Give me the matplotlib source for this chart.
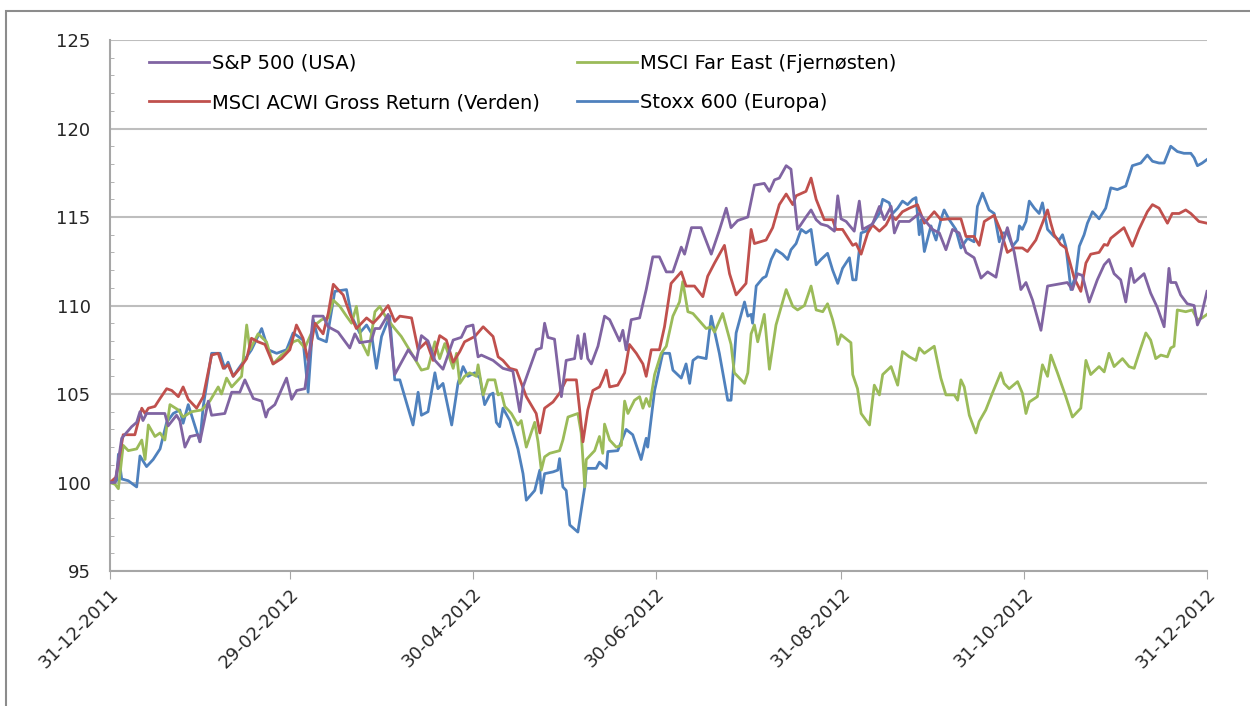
import numpy as np
import pandas as pd
import matplotlib
matplotlib.use("Agg")
import matplotlib.pyplot as plt
import matplotlib.dates as mdates
from matplotlib.patches import Rectangle
from matplotlib.ticker import MultipleLocator

# index values (31-12-2011 = 100), x = days since 31-12-2011
sp_days = [0, 1.7, 3.9, 7.2, 8.9, 10, 11, 12.2, 15, 18.3, 19.4, 22.2, 23.3, 25, 26.7, 29.4, 30,
           32.8, 33.9, 38.3, 40.6, 43.3, 45, 47.8, 50.6, 52, 52.8, 55, 58.9, 60.6, 62.3, 65, 66.1,
           67.8, 71.1, 72.8, 76.1, 80, 81.7, 83.3, 87.2, 88.4, 90, 92.8, 95, 99.5, 102.2, 103.9,
           106.1, 108.4, 111.1, 114.5, 117.2, 118.9, 121.1, 122.8, 123.9, 127.8, 131.1, 134.4,
           136.7, 137.8, 142.2, 143.9, 145, 146.1, 148.3, 150.6, 152.2, 155, 156.1, 157.2, 158.3,
           159.4, 160.6, 162.8, 165, 166.7, 168.9, 170, 171.1, 172.2, 173.9, 176.7, 178.9, 181.1,
           183.3, 185.6, 187.8, 190.6, 191.7, 194, 197.2, 200.6, 203.3, 205.6, 207.2, 209.4,
           212.8, 215, 218.3, 220, 221.7, 223.3, 225.6, 227.2, 229.4, 232.2, 233.9, 235.6, 237.2,
           239.4, 241.7, 242.8, 243.9, 245.6, 248.3, 250, 251.1, 254.4, 256.7, 258.3, 260.6,
           261.7, 263.3, 266.7, 270, 272.2, 274.4, 276.7, 278.9, 281.1, 283.3, 285.6, 288.3,
           290.6, 292.8, 295.6, 297.8, 299.4, 301.7, 303.9, 305.6, 307.8, 310.6, 312.8, 316.1,
           319.4, 321.1, 322.8, 324.4, 326.7, 329.4, 331.7, 333.3, 335, 337.2, 338.9, 340.6,
           341.7, 345, 347.2, 349.4, 351.7, 353.3, 353.9, 355.6, 357.2, 359.4, 361.7, 362.8,
           363.9, 366]
sp_vals = [100, 100, 102.5, 103.15, 103.4, 104.0, 103.5, 103.9, 103.9, 103.9, 103.2, 103.8, 103.5,
           102.0, 102.6, 102.7, 102.3, 104.6, 103.8, 103.9, 105.1, 105.1, 105.8, 104.75, 104.6,
           103.7, 104.1, 104.4, 105.9, 104.7, 105.2, 105.3, 106.6, 109.4, 109.4, 108.8, 108.5,
           107.6, 108.4, 107.9, 108.0, 108.7, 108.7, 109.5, 106.1, 107.5, 106.9, 108.3, 108.0,
           106.9, 106.4, 108.05, 108.2, 108.8, 108.9, 107.1, 107.2, 106.9, 106.45, 106.3, 104.0,
           105.4, 107.5, 107.6, 109.0, 108.2, 108.1, 104.85, 106.9, 107.0, 108.3, 107.0, 108.4,
           107.0, 106.7, 107.7, 109.4, 109.2, 108.4, 108.0, 108.6, 107.5, 109.2, 109.3, 110.9,
           112.75, 112.75, 111.9, 111.9, 113.3, 112.9, 114.4, 114.4, 112.9, 114.25, 115.5, 114.4,
           114.8, 115.0, 116.8, 116.9, 116.45, 117.1, 117.2, 117.9, 117.7, 114.3, 115.0, 115.4,
           114.85, 114.6, 114.5, 114.2, 116.2, 114.9, 114.75, 114.2, 115.9, 114.3, 114.6, 115.6,
           114.85, 115.6, 114.1, 114.75, 114.75, 115.2, 114.75, 114.3, 114.1, 113.15, 114.3,
           114.1, 113.0, 112.7, 111.55, 111.9, 111.6, 113.5, 114.4, 113.0, 110.9, 111.3, 110.3,
           108.6, 111.1, 111.2, 111.3, 110.9, 111.8, 111.7, 110.2, 111.45, 112.3, 112.6, 111.8,
           111.45, 110.2, 112.1, 111.3, 111.8, 110.7, 109.9, 108.8, 112.1, 111.3, 111.3, 110.6,
           110.1, 110.0, 108.9, 109.3, 110.8]

acwi_days = [0, 2, 4.4, 8.3, 10.6, 11.7, 12.8, 15, 16.7, 18.9, 20.6, 22.8, 24.4, 26.1, 28.9, 31.1,
             33.9, 36.1, 37.8, 39.4, 41.1, 43.3, 45.6, 47.2, 49.4, 51.7, 54.4, 57.2, 60, 62.2,
             64.4, 66.1, 68.4, 71.1, 72.8, 74.5, 76.1, 77.8, 80, 82.2, 85.6, 87.8, 90, 92.8, 95,
             96.7, 100.6, 102.8, 105.6, 107.8, 110, 112.2, 114.5, 116.7, 118.3, 121.7, 124.5,
             127.8, 129.5, 131.1, 133.4, 135.6, 138.9, 142.2, 143.4, 145, 147.8, 150, 152.2,
             155.6, 156.7, 157.8, 159.4, 161.1, 163.3, 164.4, 165.6, 166.7, 169.4, 171.7, 173.3,
             175.6, 177.8, 178.9, 180.6, 183.3, 185, 187.2, 190.6, 192.2, 195, 197.8, 199.4,
             201.7, 205, 206.7, 208.9, 212.2, 213.9, 215, 218.9, 221.1, 223.3, 225.6, 227.8,
             228.9, 232.2, 233.9, 235.6, 238.3, 241.1, 242.2, 244.4, 247.8, 248.9, 250.6, 252.8,
             254.4, 256.7, 258.9, 260.6, 262.2, 264.4, 266.7, 269.4, 271.7, 275, 277.2, 280,
             283.9, 285.6, 288.3, 290, 291.7, 295, 297.2, 299.4, 301.7, 304.4, 306.1, 308.9,
             311.1, 312.8, 313.9, 315, 317.2, 318.9, 320, 321.7, 323.9, 325.6, 327.2, 330, 331.7,
             332.8, 333.9, 336.1, 338.3, 341.1, 343.3, 346.1, 347.8, 350, 352.8, 354.4, 356.7,
             358.9, 360.6, 363.3, 366]
acwi_vals = [100, 100.3, 102.7, 102.7, 104.2, 103.9, 104.2, 104.3, 104.75, 105.3, 105.2, 104.85,
             105.4, 104.7, 104.2, 104.85, 107.2, 107.3, 106.45, 106.65, 106.0, 106.45, 107.0,
             108.15, 107.95, 107.8, 106.7, 107.0, 107.5, 108.9, 108.15, 106.9, 109.0, 108.4,
             109.55, 111.2, 110.9, 110.6, 109.55, 108.7, 109.3, 109.0, 109.4, 110.0, 109.1,
             109.4, 109.3, 107.5, 107.95, 106.9, 108.3, 108.05, 106.8, 107.4, 107.95, 108.25,
             108.8, 108.25, 107.1, 106.9, 106.45, 106.35, 104.85, 103.9, 102.8, 104.2, 104.55,
             105.05, 105.8, 105.8, 104.1, 102.3, 104.1, 105.2, 105.4, 105.8, 106.35, 105.4, 105.5,
             106.2, 107.8, 107.3, 106.7, 106.0, 107.5, 107.5, 108.8, 111.25, 111.9, 111.1, 111.1,
             110.5, 111.65, 112.4, 113.4, 111.8, 110.6, 111.25, 114.3, 113.5, 113.7, 114.4,
             115.7, 116.3, 115.7, 116.2, 116.45, 117.2, 116.0, 114.85, 114.85, 114.3, 114.3,
             113.4, 113.5, 112.9, 114.1, 114.55, 114.2, 114.55, 115.1, 114.85, 115.3, 115.5,
             115.7, 114.65, 115.3, 114.85, 114.9, 114.9, 113.9, 113.9, 113.4, 114.75, 115.1,
             114.2, 113.0, 113.25, 113.25, 113.05, 113.7, 114.65, 115.4, 114.65, 114.0, 113.45,
             113.25, 112.6, 111.55, 110.8, 112.4, 112.9, 113.0, 113.45, 113.4, 113.8, 114.1,
             114.4, 113.35, 114.3, 115.3, 115.7, 115.5, 114.65, 115.2, 115.2, 115.4, 115.2,
             114.75, 114.65]

fe_days = [0, 1.7, 2.8, 4.4, 6.1, 8.9, 10.6, 11.7, 12.8, 15, 16.7, 18.3, 20, 22.8, 24.4, 27.2,
           30.6, 33.3, 36.1, 37.2, 38.9, 40.6, 43.9, 45.6, 46.7, 49.4, 52.2, 54.4, 57.2, 58.9,
           61.1, 62.8, 65, 66.7, 68.4, 70.6, 72.8, 74.5, 76.7, 78.9, 80.6, 82.2, 83.9, 86.1,
           88.4, 90, 92.2, 95, 97.2, 100.6, 103.9, 106.1, 108.4, 110, 111.7, 112.8, 114.5,
           115.6, 116.7, 118.3, 120, 122.2, 122.8, 124.5, 126.1, 128.4, 129.5, 130.6, 131.7,
           133.9, 136.1, 137.2, 138.9, 141.7, 142.8, 143.9, 145, 146.7, 150, 151.1, 152.8,
           156.1, 157.2, 158.4, 158.9, 161.7, 163.3, 164.4, 165, 166.7, 168.9, 170.6, 171.7,
           172.8, 175, 176.7, 177.8, 178.9, 180, 181.7, 183.9, 185.6, 187.8, 190, 191.1, 192.8,
           194.5, 198.9, 200.6, 201.7, 204.4, 207.2, 208.3, 211.7, 212.8, 213.9, 215, 216.1,
           218.3, 220, 222.2, 225.6, 227.8, 229.4, 231.7, 233.9, 235.6, 237.8, 239.4, 241.1,
           242.2, 242.8, 243.9, 247.2, 247.8, 249.4, 250.6, 253.4, 255, 256.7, 257.8, 260.6,
           262.8, 264.4, 266.7, 268.9, 270, 271.7, 275, 277.2, 278.9, 281.7, 282.8, 283.9, 285,
           286.7, 288.9, 290, 292.2, 294.4, 297.2, 298.3, 300, 302.8, 304.4, 305.6, 306.7,
           309.4, 311.1, 312.8, 313.9, 316.1, 318.9, 321.1, 323.9, 325.6, 327.2, 330, 331.7,
           333.3, 335, 337.8, 340, 341.7, 343.9, 345.6, 347.2, 348.9, 350.6, 352.8, 353.9, 355,
           356.1, 358.9, 361.1, 362.8, 364.4, 366]
fe_vals = [100, 99.9, 99.65, 102.1, 101.8, 101.9, 102.4, 101.3, 103.25, 102.6, 102.8, 102.4,
           104.4, 104.1, 103.7, 104.0, 104.1, 104.6, 105.4, 105.0, 105.9, 105.4, 106.0, 108.9,
           107.5, 108.4, 107.95, 106.7, 107.2, 107.4, 107.95, 108.05, 107.6, 108.25, 108.9,
           109.2, 109.3, 110.3, 109.95, 109.4, 109.0, 109.95, 107.95, 107.2, 109.65, 109.95,
           109.3, 108.7, 108.25, 107.3, 106.35, 106.45, 107.95, 107.0, 107.85, 107.3, 106.45,
           107.3, 105.6, 106.0, 106.2, 106.0, 106.65, 104.95, 105.8, 105.8, 104.95, 105.05,
           104.3, 103.9, 103.25, 103.5, 102.0, 103.4, 102.3, 100.7, 101.45, 101.65, 101.8,
           102.4, 103.7, 103.9, 102.8, 99.75, 101.3, 101.8, 102.6, 101.65, 103.3, 102.4, 102.0,
           102.1, 104.6, 103.9, 104.65, 104.85, 104.2, 104.75, 104.3, 106.1, 107.3, 107.7,
           109.4, 110.2, 111.35, 109.65, 109.55, 108.7, 108.8, 108.5, 109.55, 107.8, 106.2,
           105.6, 106.2, 108.4, 108.9, 107.95, 109.5, 106.4, 108.9, 110.9, 109.95, 109.75,
           110.0, 111.1, 109.75, 109.65, 110.1, 109.2, 108.45, 107.8, 108.35, 107.9, 106.1,
           105.3, 103.9, 103.25, 105.5, 104.95, 106.1, 106.55, 105.5, 107.4, 107.1, 106.9,
           107.6, 107.3, 107.7, 105.9, 104.95, 104.95, 104.65, 105.8, 105.4, 103.8, 102.8,
           103.45, 104.1, 105.05, 106.2, 105.6, 105.3, 105.7, 105.05, 103.9, 104.55, 104.85,
           106.65, 106.0, 107.2, 106.2, 104.85, 103.7, 104.2, 106.9, 106.1, 106.55, 106.25,
           107.3, 106.55, 107.0, 106.55, 106.45, 107.6, 108.45, 108.05, 107.0, 107.2, 107.1,
           107.6, 107.7, 109.75, 109.65, 109.75, 109.2, 109.3, 109.5]

stoxx_days = [0, 2.2, 2.8, 3.9, 6.1, 8.9, 10, 12.2, 14.4, 16.7, 18.9, 21.1, 23.3, 24.4, 26.1, 30,
              31.1, 33.9, 36.7, 38.3, 39.4, 41.1, 44.4, 47.2, 50.6, 52.8, 55.6, 58.9, 61.1,
              62.8, 64.4, 66.1, 67.8, 69.4, 72.2, 75, 78.9, 80.6, 83.3, 85.6, 87.2, 88.9, 90.6,
              93.3, 95, 96.7, 101.1, 102.8, 103.9, 106.1, 108.4, 109.4, 111.1, 114, 116.1,
              117.8, 119.4, 121.7, 123.4, 125, 126.7, 127.8, 128.9, 130, 131.1, 133.4, 136.1,
              137.8, 138.9, 141.7, 143.4, 143.9, 145, 147.8, 149.4, 150, 151.1, 152.2, 153.4,
              156.1, 158.4, 158.9, 162.2, 163.3, 165.6, 166.1, 169.4, 172.2, 174.4, 177.2,
              178.9, 179.4, 181.7, 184.4, 186.7, 187.8, 190.6, 192.2, 193.4, 194.5, 196.1,
              198.9, 200.6, 203.3, 206.1, 207.2, 208.9, 211.7, 212.8, 213.9, 214.4, 215.6,
              217.8, 218.9, 220.6, 222.2, 224.4, 226.1, 227.2, 228.9, 230.6, 232.2, 233.9,
              235.6, 237.2, 239.4, 241.1, 242.8, 244.4, 246.7, 247.8, 248.9, 250, 250.6, 252.2,
              253.9, 256.7, 257.8, 260, 261.1, 262.8, 264.4, 266.1, 267.8, 268.9, 270, 270.6,
              271.7, 273.9, 275.6, 277.2, 278.3, 280, 282.2, 283.9, 286.1, 288.3, 289.4, 291.1,
              293.3, 295, 296.7, 297.8, 299.4, 301.1, 302.8, 303.4, 304.4, 305.6, 306.7, 308.4,
              310, 311.1, 312.8, 315, 316.7, 317.8, 318.9, 320.6, 322.2, 323.4, 325, 326.1,
              327.8, 330, 332.2, 333.9, 336.1, 338.9, 341.1, 343.9, 346.1, 347.8, 350, 351.7,
              353.9, 356.1, 358.3, 360.6, 361.7, 362.8, 364.4, 366]
stoxx_vals = [100, 100.1, 101.6, 100.2, 100.1, 99.75, 101.5, 100.9, 101.3, 101.9, 103.4, 103.9,
              104.1, 103.35, 104.4, 102.3, 104.3, 107.3, 107.3, 106.45, 106.8, 106.0, 106.8,
              107.5, 108.7, 107.5, 107.3, 107.5, 108.45, 108.25, 108.05, 105.1, 109.2, 108.15,
              107.95, 110.8, 110.9, 109.4, 108.45, 108.9, 108.45, 106.45, 108.25, 109.4, 105.8,
              105.8, 103.25, 105.1, 103.8, 104.0, 106.2, 105.3, 105.6, 103.25, 105.6, 106.55,
              106.0, 106.2, 105.9, 104.4, 104.95, 105.05, 103.4, 103.15, 104.2, 103.5, 101.9,
              100.5, 99.0, 99.55, 100.7, 99.4, 100.5, 100.6, 100.7, 101.35, 99.75, 99.55, 97.6,
              97.2, 99.75, 100.8, 100.8, 101.15, 100.8, 101.75, 101.8, 103.0, 102.7, 101.3,
              102.5, 102.0, 105.2, 107.3, 107.3, 106.35, 105.9, 106.7, 105.6, 106.9, 107.1, 107.0,
              109.4, 107.3, 104.65, 104.65, 108.45, 110.2, 109.4, 109.5, 109.0, 111.1, 111.55,
              111.65, 112.6, 113.15, 112.9, 112.6, 113.15, 113.5, 114.3, 114.1, 114.3, 112.3,
              112.6, 112.95, 112.0, 111.25, 112.1, 112.7, 111.45, 111.45, 113.15, 114.1, 114.2,
              114.5, 115.2, 116.0, 115.8, 115.2, 115.5, 115.9, 115.7, 116.0, 116.1, 114.0,
              114.85, 113.05, 114.5, 113.7, 114.85, 115.4, 114.85, 114.3, 113.25, 113.8, 113.6,
              115.6, 116.35, 115.4, 115.2, 113.6, 114.1, 114.1, 113.35, 113.7, 114.5, 114.3,
              114.75, 115.9, 115.5, 115.2, 115.8, 114.3, 113.9, 113.7, 114.0, 113.35, 110.9,
              111.7, 113.35, 114.0, 114.65, 115.3, 114.9, 115.5, 116.65, 116.55, 116.75, 117.9,
              118.05, 118.5, 118.15, 118.05, 118.05, 119.0, 118.7, 118.6, 118.6, 118.35, 117.9,
              118.05, 118.25]

labels = ["S&P 500 (USA)", "MSCI ACWI Gross Return (Verden)",
          "MSCI Far East (Fjernøsten)", "Stoxx 600 (Europa)"]
colors = ["#8064A2", "#C0504D", "#9BBB59", "#4F81BD"]
tick_dates = ["2011-12-31", "2012-02-29", "2012-04-30", "2012-06-30",
              "2012-08-31", "2012-10-31", "2012-12-31"]

start = pd.Timestamp("2011-12-31")


def to_dates(days):
    return start + pd.to_timedelta(np.array(days), unit="D")


fig = plt.figure(figsize=(12.5, 7.06), dpi=100)
ax = fig.add_axes([0.088, 0.1912, 0.8776, 0.7521])

series = [(sp_days, sp_vals), (acwi_days, acwi_vals), (fe_days, fe_vals), (stoxx_days, stoxx_vals)]
handles = []
for (d, v), lab, c in zip(series, labels, colors):
    h, = ax.plot(to_dates(d), v, color=c, lw=2.0, label=lab)
    handles.append(h)
# draw order like the original: blue under, purple on top
for h, z in zip(handles, [5, 4, 3, 2]):
    h.set_zorder(z)

ax.set_ylim(95, 125)
ax.set_xlim(pd.Timestamp(tick_dates[0]), pd.Timestamp(tick_dates[-1]))
ax.yaxis.set_major_locator(MultipleLocator(5))
ax.yaxis.set_minor_locator(MultipleLocator(1))
ax.grid(axis="y", color="#BEBEBE", lw=1.5)
ax.set_axisbelow(True)

ax.set_xticks([pd.Timestamp(t) for t in tick_dates])
ax.xaxis.set_major_formatter(mdates.DateFormatter("%d-%m-%Y"))
plt.setp(ax.get_xticklabels(), rotation=45, ha="right", rotation_mode="anchor")

for s in ["top", "right"]:
    ax.spines[s].set_visible(False)
for s in ["left", "bottom"]:
    ax.spines[s].set_color("#A6A6A6")
    ax.spines[s].set_linewidth(1.5)

ax.tick_params(axis="x", direction="out", length=6, color="#A6A6A6", labelsize=13,
               labelcolor="#262626", pad=4)
ax.tick_params(axis="y", which="major", direction="in", length=0, labelsize=13,
               labelcolor="#262626", pad=14)
ax.tick_params(axis="y", which="minor", direction="in", length=3, color="#A6A6A6")

ax.legend(handles, labels, ncol=2, loc="upper left", bbox_to_anchor=(0.023, 1.0),
          frameon=False, fontsize=14, handlelength=3.1, handletextpad=0.15,
          columnspacing=1.9, labelspacing=1.05, borderaxespad=0.3)

fig.patches.append(Rectangle((0.0048, -0.5), 1.5, 0.9844 + 0.5, transform=fig.transFigure,
                             fill=False, edgecolor="#8C8C8C", lw=1.5))

fig.savefig("out.png", dpi=100)
